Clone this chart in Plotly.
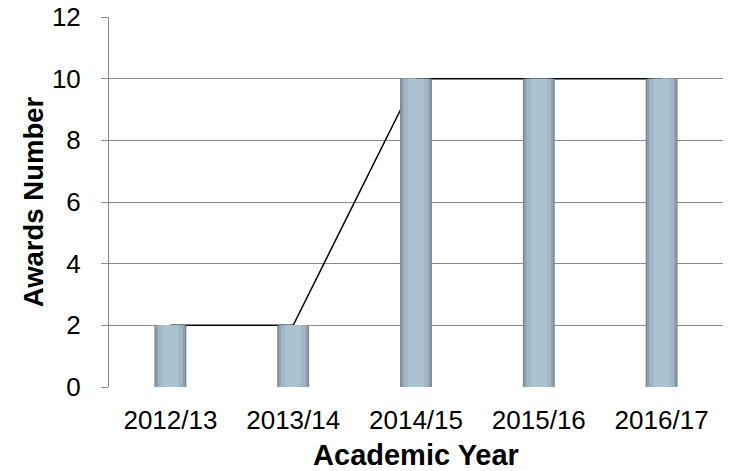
import plotly.graph_objects as go

years = ["2012/13", "2013/14", "2014/15", "2015/16", "2016/17"]
awards = [2, 2, 10, 10, 10]
y_ticks = [0, 2, 4, 6, 8, 10, 12]

fig = go.Figure()

# trend line (base subplot, drawn below bars)
fig.add_trace(go.Scatter(x=years, y=awards, mode="lines",
                         line=dict(color="black", width=1.5),
                         xaxis="x", yaxis="y", showlegend=False, hoverinfo="skip"))

# cylinder-like bars built from overlaid bars of decreasing width
layers = [
    (0.26, "#7b8792"),
    (0.235, "#90a3b1"),
    (0.20, "#a1b7c6"),
    (0.13, "#abc2d1"),
]
for w, c in layers:
    fig.add_trace(go.Bar(x=years, y=awards, width=w, marker=dict(color=c, line=dict(width=0)),
                         xaxis="x2", yaxis="y2", showlegend=False, hoverinfo="skip"))

axis_font = dict(family="Liberation Sans, Arial", size=26, color="black")
xtitle_font = dict(family="Liberation Sans, Arial", size=29, color="black")
ytitle_font = dict(family="Liberation Sans, Arial", size=27.5, color="black")

fig.update_layout(
    width=730, height=471,
    margin=dict(l=109, r=7, t=17, b=84),
    plot_bgcolor="white", paper_bgcolor="white",
    barmode="overlay",
    xaxis=dict(type="category", categoryorder="array", categoryarray=years,
               range=[-0.5, 4.5], showgrid=False, showline=False, ticks="",
               tickfont=axis_font, automargin=False, ticklabelstandoff=15,
               title=dict(text="<b>Academic Year</b>", font=xtitle_font, standoff=18)),
    yaxis=dict(range=[0, 12], tickvals=y_ticks, showgrid=True, gridcolor="#898989", gridwidth=1,
               showline=True, linecolor="#898989", linewidth=1, ticks="outside", ticklen=7,
               tickcolor="#898989", tickfont=axis_font, zeroline=False, ticklabelstandoff=15,
               automargin=False,
               title=dict(text="<b>Awards Number</b>", font=ytitle_font, standoff=0)),
    xaxis2=dict(type="category", categoryorder="array", categoryarray=years,
                range=[-0.5, 4.5], overlaying="x", visible=False),
    yaxis2=dict(range=[0, 12], overlaying="y", visible=False),
)

fig.write_html("out.html", config={"displayModeBar": False},
               post_script="document.body.style.margin='0px';")
